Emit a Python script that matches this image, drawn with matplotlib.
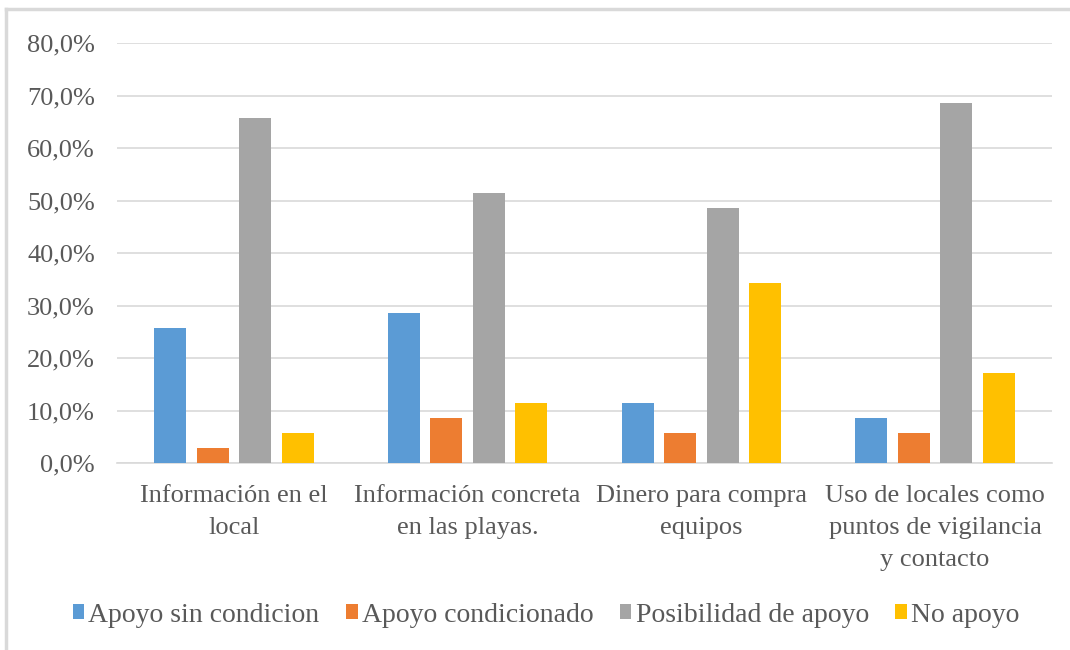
import numpy as np
import matplotlib.pyplot as plt
from matplotlib.lines import Line2D

# category labels and series values (percent)
categorias = ['Información en el\nlocal',
              'Información concreta\nen las playas.',
              'Dinero para compra\nequipos',
              'Uso de locales como\npuntos de vigilancia\ny contacto']
series = ['Apoyo sin condicion', 'Apoyo condicionado',
          'Posibilidad de apoyo', 'No apoyo']
apoyo_sin = [25.7, 28.6, 11.4, 8.6]
apoyo_cond = [2.9, 8.6, 5.7, 5.7]
posibilidad = [65.7, 51.4, 48.6, 68.6]
no_apoyo = [5.7, 11.4, 34.3, 17.1]
yticks = [0, 10, 20, 30, 40, 50, 60, 70, 80]

colores = ['#5B9BD5', '#ED7D31', '#A5A5A5', '#FFC000']
texto = '#595959'

plt.rcParams['font.family'] = 'serif'
plt.rcParams['font.serif'] = ['Liberation Serif', 'DejaVu Serif']

fig = plt.figure(figsize=(10.7, 6.5), dpi=100)
ax = fig.add_axes([117/1070, 1-463/650, (1052-117)/1070, 420/650])

x = np.arange(len(categorias))
ancho = 0.137
paso = 0.182
datos = [apoyo_sin, apoyo_cond, posibilidad, no_apoyo]
for i, vals in enumerate(datos):
    ax.bar(x + (i - 1.5)*paso, vals, ancho, color=colores[i], label=series[i], zorder=3)

ax.set_xlim(-0.5, len(categorias) - 0.5)
ax.set_ylim(0, 80)
ax.set_yticks(yticks)
ax.set_yticklabels([('%.1f' % t).replace('.', ',') + '%' for t in yticks],
                   fontsize=19, color=texto)
ax.set_xticks(x)
ax.set_xticklabels(categorias, fontsize=19, color=texto, linespacing=1.58)
ax.tick_params(axis='both', length=0)
ax.tick_params(axis='y', pad=16)
ax.tick_params(axis='x', pad=16)
ax.grid(axis='y', color='#D9D9D9', linewidth=1.2, zorder=0)
for s in ['top', 'right', 'left']:
    ax.spines[s].set_visible(False)
ax.spines['bottom'].set_color('#D9D9D9')
ax.spines['bottom'].set_linewidth(1.2)

leg = fig.legend(loc='center', bbox_to_anchor=(546/1070, 1-615/650), ncol=4,
                 frameon=False, fontsize=20, handlelength=0.42, handleheight=0.42,
                 handletextpad=0.15, columnspacing=0.95)
for t in leg.get_texts():
    t.set_color(texto)

# chart frame (top and left edges visible)
fig.add_artist(Line2D([6/1070, 1], [1-9/650, 1-9/650], color='#D9D9D9', linewidth=2.5))
fig.add_artist(Line2D([6/1070, 6/1070], [0, 1-9/650], color='#D9D9D9', linewidth=2.5))

fig.savefig('out.png', dpi=100)
